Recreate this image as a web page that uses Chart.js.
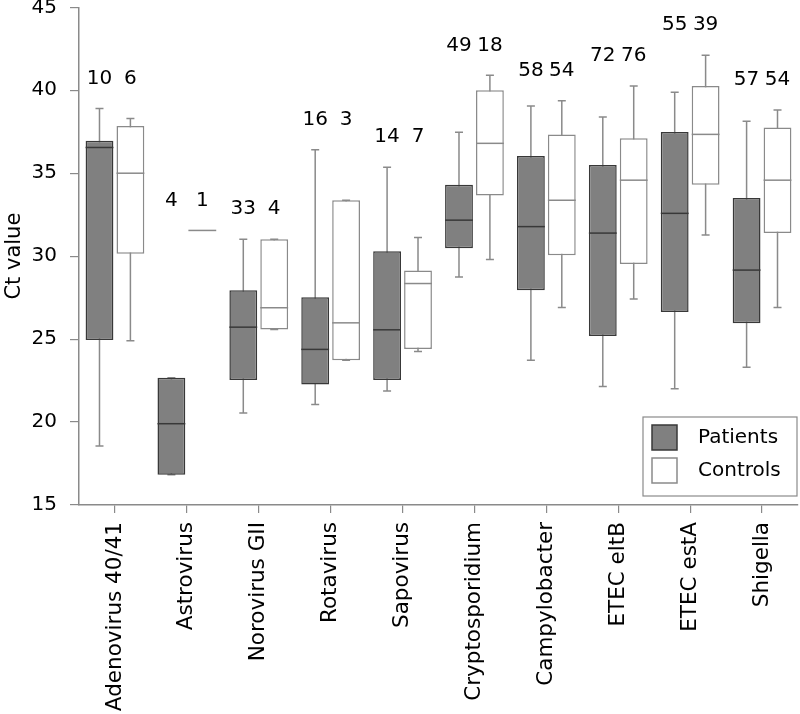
<!DOCTYPE html>
<html>
<head>
<meta charset="utf-8">
<script src="https://cdn.jsdelivr.net/npm/chart.js@4.4.1/dist/chart.umd.min.js"></script>
<style>
  html, body { margin: 0; padding: 0; background: #fff; }
  #wrap { width: 800px; height: 714px; }
</style>
</head>
<body>
<div id="wrap"><canvas id="ctChart"></canvas></div>
<script>
const categories = ['Adenovirus 40/41', 'Astrovirus', 'Norovirus GII', 'Rotavirus', 'Sapovirus',
    'Cryptosporidium', 'Campylobacter', 'ETEC eltB', 'ETEC estA', 'Shigella'];

// Patients: whisker low, Q1, median, Q3, whisker high
const patientsMin = [18.55, 16.83, 20.54, 21.06, 21.87, 28.75, 23.73, 22.14, 22.0, 23.31];
const patientsQ1 = [24.95, 16.83, 22.53, 22.27, 22.53, 30.48, 27.95, 25.18, 26.63, 25.96];
const patientsMed = [36.55, 19.9, 25.72, 24.38, 25.56, 32.17, 31.78, 31.39, 32.58, 29.16];
const patientsQ3 = [36.95, 22.67, 27.95, 27.53, 30.3, 34.31, 36.04, 35.5, 37.49, 33.51];
const patientsMax = [38.9, 22.67, 31.02, 36.42, 35.36, 37.47, 39.05, 38.39, 39.88, 38.13];
const patientsN = [10, 4, 33, 16, 14, 49, 58, 72, 55, 57];

// Controls
const controlsMin = [24.9, 31.55, 25.58, 23.73, 24.25, 29.8, 26.9, 27.41, 31.27, 26.9];
const controlsQ1 = [30.15, 31.55, 25.58, 23.73, 24.4, 33.65, 30.06, 29.52, 34.31, 31.39];
const controlsMed = [35.0, 31.55, 26.89, 25.98, 28.35, 36.8, 33.37, 34.58, 37.34, 34.58];
const controlsQ3 = [37.85, 31.55, 31.02, 33.37, 29.13, 40.0, 37.34, 37.1, 40.26, 37.75];
const controlsMax = [38.3, 31.55, 31.02, 33.37, 31.12, 40.9, 39.36, 40.26, 42.11, 38.81];
const controlsN = [6, 1, 4, 3, 7, 18, 54, 76, 39, 54];

const yTicks = [15, 20, 25, 30, 35, 40, 45];

const FONT = 'DejaVu Sans';
const GREY = '#8a8a8a';

const stats = [
    {min: patientsMin, med: patientsMed, max: patientsMax, n: patientsN, medColor: '#383838'},
    {min: controlsMin, med: controlsMed, max: controlsMax, n: controlsN, medColor: GREY}
];

const boxPlot = {
    id: 'boxPlot',
    beforeDatasetsDraw(chart) {
        const ctx = chart.ctx;
        const y = chart.scales.y;
        ctx.save();
        ctx.strokeStyle = GREY;
        ctx.lineWidth = 1.5;
        stats.forEach((s, d) => {
            chart.getDatasetMeta(d).data.forEach((bar, i) => {
                const top = y.getPixelForValue(s.max[i]);
                const bot = y.getPixelForValue(s.min[i]);
                if (top === bot) return;
                ctx.beginPath();
                ctx.moveTo(bar.x, top);
                ctx.lineTo(bar.x, bot);
                ctx.moveTo(bar.x - 4, top);
                ctx.lineTo(bar.x + 4, top);
                ctx.moveTo(bar.x - 4, bot);
                ctx.lineTo(bar.x + 4, bot);
                ctx.stroke();
            });
        });
        ctx.restore();
    },
    afterDatasetsDraw(chart) {
        const ctx = chart.ctx;
        const y = chart.scales.y;
        ctx.save();
        ctx.lineWidth = 1.5;
        stats.forEach((s, d) => {
            ctx.strokeStyle = s.medColor;
            chart.getDatasetMeta(d).data.forEach((bar, i) => {
                const py = y.getPixelForValue(s.med[i]);
                ctx.beginPath();
                ctx.moveTo(bar.x - bar.width / 2, py);
                ctx.lineTo(bar.x + bar.width / 2, py);
                ctx.stroke();
            });
        });

        // sample sizes above each pair
        ctx.fillStyle = '#000';
        ctx.font = '20px "' + FONT + '"';
        ctx.textAlign = 'center';
        ctx.textBaseline = 'middle';
        categories.forEach((c, i) => {
            const top = Math.max(patientsMax[i], controlsMax[i]);
            const py = y.getPixelForValue(top) - 30;
            stats.forEach((s, d) => {
                const bar = chart.getDatasetMeta(d).data[i];
                ctx.fillText(String(s.n[i]), bar.x, py);
            });
        });
        ctx.restore();
    },
    afterDraw(chart) {
        const ctx = chart.ctx;
        const area = chart.chartArea;
        const w = 154, h = 79;
        const left = area.right - w - 1;
        const top = area.bottom - h - 9;
        ctx.save();
        ctx.strokeStyle = GREY;
        ctx.lineWidth = 1.2;
        ctx.fillStyle = '#fff';
        ctx.fillRect(left, top, w, h);
        ctx.strokeRect(left, top, w, h);
        ctx.font = '20px "' + FONT + '"';
        ctx.textAlign = 'left';
        ctx.textBaseline = 'middle';
        chart.data.datasets.forEach((ds, d) => {
            const sy = top + 8 + d * 33;
            ctx.fillStyle = ds.backgroundColor;
            ctx.fillRect(left + 9, sy, 25, 25);
            ctx.strokeStyle = ds.borderColor;
            ctx.lineWidth = 1.5;
            ctx.strokeRect(left + 9, sy, 25, 25);
            ctx.fillStyle = '#000';
            ctx.fillText(ds.label, left + 55, sy + 13);
        });
        ctx.restore();
    }
};

const ctx = document.getElementById('ctChart').getContext('2d');
const myChart = new Chart(ctx, {
    type: 'bar',
    data: {
        labels: categories,
        datasets: [{
            label: 'Patients',
            data: patientsQ1.map((q, i) => [q, patientsQ3[i]]),
            backgroundColor: '#808080',
            borderColor: '#383838',
            borderWidth: 1.5,
            borderSkipped: false
        }, {
            label: 'Controls',
            data: controlsQ1.map((q, i) => [q, controlsQ3[i]]),
            backgroundColor: '#ffffff',
            borderColor: GREY,
            borderWidth: 1.5,
            borderSkipped: false
        }]
    },
    options: {
        responsive: true,
        maintainAspectRatio: false,
        animation: false,
        layout: {padding: {right: 2}},
        datasets: {
            bar: {categoryPercentage: 0.86, barPercentage: 0.9}
        },
        plugins: {
            legend: {display: false},
            tooltip: {enabled: false}
        },
        scales: {
            x: {
                afterFit(scale) { scale.height = 209; },
                grid: {display: true, drawOnChartArea: false, offset: false, tickLength: 8, color: GREY, lineWidth: 1.2},
                border: {color: GREY, width: 1.5},
                ticks: {
                    minRotation: 90, maxRotation: 90, autoSkip: false, padding: 9,
                    color: '#000', font: {family: FONT, size: 21.5}
                }
            },
            y: {
                min: 15,
                max: 45,
                afterFit(scale) {
                    scale.width = 79;
                    scale.paddingTop = 7.3;
                    scale.paddingBottom = 0;
                },
                afterBuildTicks(scale) { scale.ticks = yTicks.map(v => ({value: v})); },
                title: {
                    display: true, text: 'Ct value', color: '#000',
                    font: {family: FONT, size: 21}, padding: {top: 2, bottom: 0}
                },
                grid: {display: true, drawOnChartArea: false, tickLength: 9, color: GREY, lineWidth: 1.2},
                border: {color: GREY, width: 1.5},
                ticks: {
                    padding: 13, color: '#000',
                    font: {family: FONT, size: 20}
                }
            }
        }
    },
    plugins: [boxPlot]
});
</script>
</body>
</html>
